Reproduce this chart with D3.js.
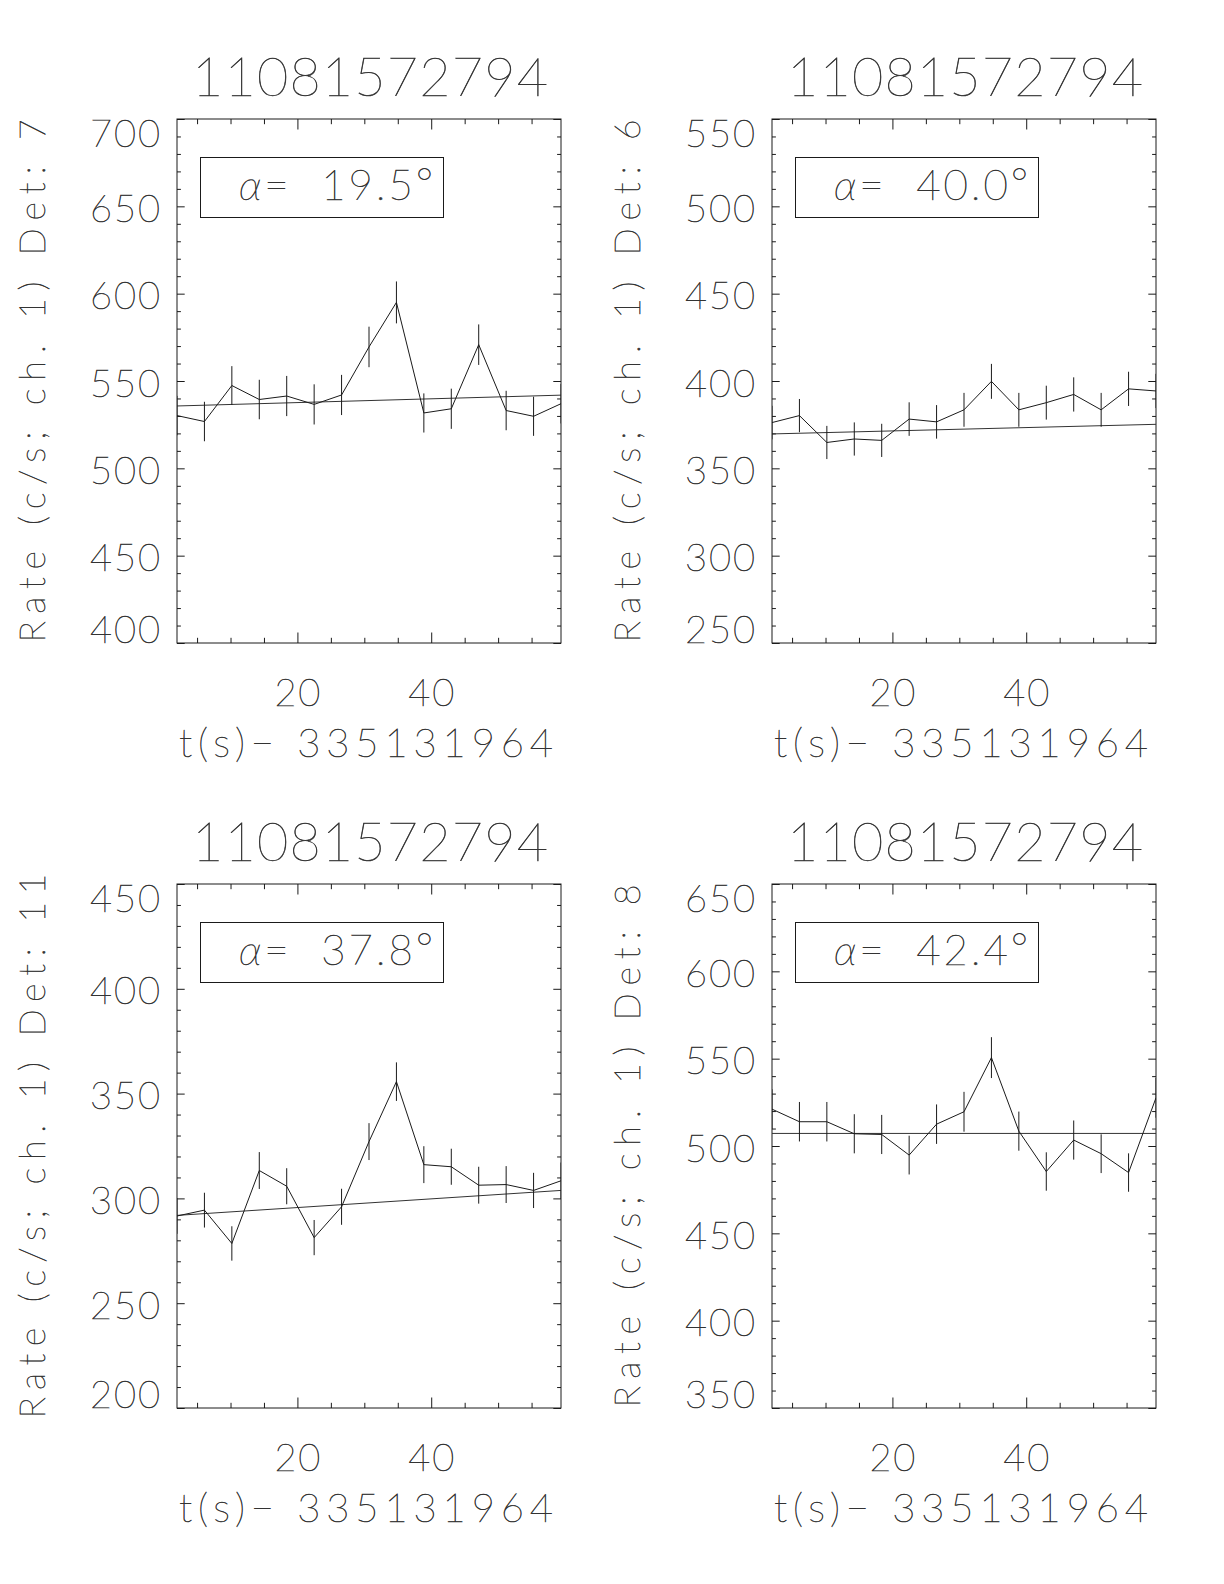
<!DOCTYPE html>
<html>
<head>
<meta charset="utf-8">
<script src="https://cdn.jsdelivr.net/npm/d3@7"></script>
<style>
  body { margin: 0; background: #fff; }
  svg text { font-family: Lato, Inter, "DejaVu Sans", sans-serif; font-weight: 200; fill: #333; stroke: #333; stroke-width: 0.55px; }
</style>
</head>
<body>
<svg id="chart" width="1224" height="1584"></svg>
<script>
// ---------------- data ----------------
const panelTitles = ["11081572794", "11081572794", "11081572794", "11081572794"];
const detectorIds = ["7", "6", "11", "8"];
const alphaAngles = ["19.5", "40.0", "37.8", "42.4"];
const timeZeroLabel = "335131964";

const times = [2.0, 6.1, 10.2, 14.3, 18.4, 22.5, 26.6, 30.7, 34.8, 38.9, 43.0, 47.1, 51.2, 55.3, 59.4];
const xMajorTicks = [20, 40];
const xMinorTicks = [5, 10, 15, 25, 30, 35, 45, 50, 55];

const rateDet7 = [530.2, 526.8, 547.4, 539.4, 541.4, 536.6, 542.0, 569.5, 595.0, 531.7, 534.1, 570.8, 533.1, 529.8, 537.0];
const errDet7  = [11.3, 11.3, 11.1, 11.3, 11.5, 11.5, 11.5, 11.6, 12.0, 11.2, 11.5, 11.6, 11.3, 11.2, 11.3];
const fitDet7  = [535.7, 541.9];
const yTicksDet7 = [400, 450, 500, 550, 600, 650, 700];

const rateDet6 = [376.2, 380.2, 364.8, 366.8, 366.0, 378.2, 376.6, 383.5, 399.8, 383.5, 387.6, 392.3, 383.5, 395.5, 394.3];
const errDet6  = [9.6, 9.5, 9.5, 9.5, 9.5, 9.6, 9.6, 9.7, 10.0, 9.7, 9.7, 9.8, 9.7, 9.8, 9.8];
const fitDet6  = [369.7, 375.2];
const yTicksDet6 = [250, 300, 350, 400, 450, 500, 550];

const rateDet11 = [291.6, 294.4, 278.5, 313.3, 305.8, 281.3, 296.0, 327.1, 355.7, 316.1, 315.1, 306.3, 306.6, 303.8, 308.4];
const errDet11  = [8.5, 8.3, 8.2, 8.8, 8.6, 8.4, 8.6, 8.8, 9.2, 8.8, 8.6, 8.8, 8.8, 8.4, 8.7];
const fitDet11  = [291.9, 303.8];
const yTicksDet11 = [200, 250, 300, 350, 400, 450];

const rateDet8 = [521.1, 513.9, 513.9, 507.0, 506.6, 494.8, 512.5, 519.6, 550.6, 508.5, 485.4, 503.4, 495.6, 484.8, 527.6];
const errDet8  = [11.4, 11.3, 11.3, 11.2, 11.2, 11.1, 11.3, 11.4, 11.7, 11.2, 11.0, 11.2, 11.1, 11.0, 11.4];
const fitDet8  = [507.2, 507.2];
const yTicksDet8 = [350, 400, 450, 500, 550, 600, 650];

const panels = [
  { title: panelTitles[0], det: detectorIds[0], alpha: alphaAngles[0], rate: rateDet7,  err: errDet7,  fit: fitDet7,  ticks: yTicksDet7 },
  { title: panelTitles[1], det: detectorIds[1], alpha: alphaAngles[1], rate: rateDet6,  err: errDet6,  fit: fitDet6,  ticks: yTicksDet6 },
  { title: panelTitles[2], det: detectorIds[2], alpha: alphaAngles[2], rate: rateDet11, err: errDet11, fit: fitDet11, ticks: yTicksDet11 },
  { title: panelTitles[3], det: detectorIds[3], alpha: alphaAngles[3], rate: rateDet8,  err: errDet8,  fit: fitDet8,  ticks: yTicksDet8 }
];

// ---------------- layout ----------------
const colX = [177, 772];
const rowY = [119, 884];
const W = 384, H = 524;
const ink = "#1a1a1a";

const svg = d3.select("#chart");

panels.forEach((p, i) => {
  const x0 = colX[i % 2], y0 = rowY[Math.floor(i / 2)];
  const g = svg.append("g").attr("transform", `translate(${x0},${y0})`);

  const x = d3.scaleLinear().domain([times[0], times[times.length - 1]]).range([0, W]);
  const yDom = d3.extent(p.ticks);
  const y = d3.scaleLinear().domain(yDom).range([H, 0]);
  const yMinor = d3.range(yDom[0], yDom[1] + 1, 10).filter(v => !p.ticks.includes(v));

  const clipId = "clip" + i;
  g.append("clipPath").attr("id", clipId).append("rect").attr("width", W).attr("height", H);

  // axes (ticks inward, box on all four sides)
  const tickAxis = (axisFn, scale, values, len, transform) => {
    const a = g.append("g").attr("transform", transform)
      .call(axisFn(scale).tickValues(values).tickSize(-len).tickFormat(""));
    a.select(".domain").remove();
    a.selectAll("line").attr("stroke", ink).attr("stroke-width", 1);
  };
  tickAxis(d3.axisBottom, x, xMajorTicks, 10.5, `translate(0,${H})`);
  tickAxis(d3.axisBottom, x, xMinorTicks, 5.2, `translate(0,${H})`);
  tickAxis(d3.axisTop, x, xMajorTicks, 10.5, `translate(0,0)`);
  tickAxis(d3.axisTop, x, xMinorTicks, 5.2, `translate(0,0)`);
  tickAxis(d3.axisLeft, y, p.ticks, 7.7, `translate(0,0)`);
  tickAxis(d3.axisLeft, y, yMinor, 3.9, `translate(0,0)`);
  tickAxis(d3.axisRight, y, p.ticks, 7.7, `translate(${W},0)`);
  tickAxis(d3.axisRight, y, yMinor, 3.9, `translate(${W},0)`);

  // frame
  g.append("rect").attr("x", 0).attr("y", 0).attr("width", W).attr("height", H)
    .attr("fill", "none").attr("stroke", ink).attr("stroke-width", 1);

  // y tick labels (IDL keeps end labels inside the axis span)
  g.selectAll(".ylab").data(p.ticks).enter().append("text")
    .attr("class", "ylab")
    .attr("x", -17).attr("text-anchor", "end")
    .attr("y", v => {
      const t = y(v);
      if (v === yDom[1]) return t + 28;
      if (v === yDom[0]) return t;
      return t + 15.5;
    })
    .attr("font-size", 38)
    .attr("textLength", v => String(v).length * 24 - 2).attr("lengthAdjust", "spacing")
    .text(v => v);

  // x tick labels
  g.selectAll(".xlab").data(xMajorTicks).enter().append("text")
    .attr("class", "xlab")
    .attr("x", v => x(v)).attr("y", H + 63).attr("text-anchor", "middle")
    .attr("font-size", 38)
    .attr("textLength", v => String(v).length * 24 - 2).attr("lengthAdjust", "spacing")
    .text(v => v);

  // x title
  g.append("text").attr("x", W / 2 - 3).attr("y", H + 114).attr("text-anchor", "middle")
    .attr("font-size", 40).attr("textLength", 374).attr("lengthAdjust", "spacing")
    .text("t(s)\u2212 " + timeZeroLabel);

  // panel title
  g.append("text").attr("x", W / 2 + 1).attr("y", -23).attr("text-anchor", "middle")
    .attr("font-size", 54).attr("textLength", 356).attr("lengthAdjust", "spacing")
    .text(p.title);

  // y title
  const yTitle = "Rate (c/s; ch. 1) Det: " + p.det;
  g.append("text")
    .attr("transform", `translate(${-132},${H / 2}) rotate(-90)`)
    .attr("text-anchor", "middle")
    .attr("font-size", 36).attr("textLength", 21.8 * yTitle.length).attr("lengthAdjust", "spacing")
    .text(yTitle);

  // alpha label box
  g.append("rect").attr("x", 23.5).attr("y", 38.5).attr("width", 243).attr("height", 60)
    .attr("fill", "none").attr("stroke", ink).attr("stroke-width", 1);
  const at = g.append("text").attr("x", 62).attr("y", 81).attr("font-size", 42)
    .attr("textLength", 194).attr("lengthAdjust", "spacing");
  at.append("tspan").attr("font-style", "italic").text("\u03b1");
  at.append("tspan").text("= " + "\u00a0" + p.alpha);
  at.append("tspan").attr("dy", -2).text("\u00b0");

  // fit line
  const dataG = g.append("g").attr("clip-path", `url(#${clipId})`);
  dataG.append("line")
    .attr("x1", x(times[0])).attr("y1", y(p.fit[0]))
    .attr("x2", x(times[times.length - 1])).attr("y2", y(p.fit[1]))
    .attr("stroke", "#333").attr("stroke-width", 1);

  // error bars
  dataG.selectAll(".eb").data(times).enter().append("line")
    .attr("x1", (t) => x(t)).attr("x2", (t) => x(t))
    .attr("y1", (t, k) => y(p.rate[k] - p.err[k]))
    .attr("y2", (t, k) => y(p.rate[k] + p.err[k]))
    .attr("stroke", ink).attr("stroke-width", 1);

  // rate curve
  const line = d3.line().x((d, k) => x(times[k])).y(d => y(d));
  dataG.append("path").datum(p.rate).attr("d", line)
    .attr("fill", "none").attr("stroke", ink).attr("stroke-width", 1);
});
</script>
</body>
</html>
